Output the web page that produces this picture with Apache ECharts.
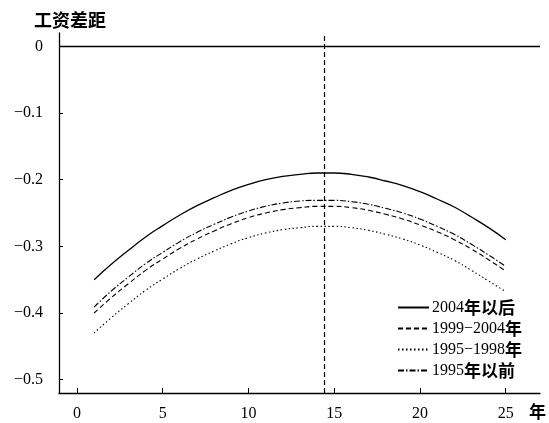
<!DOCTYPE html>
<html><head><meta charset="utf-8">
<script src="https://cdn.jsdelivr.net/npm/echarts@6/dist/echarts.min.js"></script>
<style>html,body{margin:0;padding:0;background:#fff}#c{width:549px;height:423px}</style>
</head><body><div id="c"></div>
<script>
const years = [1,2,3,4,5,6,7,8,9,10,11,12,13,14,15,16,17,18,19,20,21,22,23,24,25];
const after2004 = [-0.350,-0.327,-0.306,-0.286,-0.269,-0.253,-0.239,-0.227,-0.216,-0.207,-0.200,-0.195,-0.192,-0.190,-0.190,-0.192,-0.196,-0.202,-0.209,-0.218,-0.229,-0.241,-0.256,-0.272,-0.290];
const y1999_2004 = [-0.400,-0.377,-0.356,-0.336,-0.319,-0.303,-0.289,-0.277,-0.266,-0.257,-0.250,-0.245,-0.242,-0.240,-0.240,-0.242,-0.246,-0.252,-0.259,-0.268,-0.278,-0.290,-0.304,-0.320,-0.337];
const y1995_1998 = [-0.430,-0.407,-0.386,-0.366,-0.349,-0.333,-0.319,-0.307,-0.296,-0.287,-0.280,-0.275,-0.272,-0.270,-0.270,-0.272,-0.276,-0.282,-0.289,-0.298,-0.309,-0.321,-0.336,-0.352,-0.368];
const before1995 = [-0.391,-0.367,-0.346,-0.326,-0.309,-0.293,-0.279,-0.267,-0.256,-0.247,-0.240,-0.235,-0.232,-0.231,-0.231,-0.233,-0.237,-0.243,-0.250,-0.259,-0.270,-0.282,-0.297,-0.313,-0.330];
const xTicks = [0,5,10,15,20,25];
const yTicks = [-0.5,-0.4,-0.3,-0.2,-0.1,0];
const peakYear = 14.4;
const names = [['2004','年以后'],['1999−2004','年'],['1995−1998','年'],['1995','年以前']];

const serif = '"Liberation Serif","Times New Roman",serif';
const cjk = '"Noto Sans CJK SC",sans-serif';
const pair = arr => years.map((x,i)=>[x,arr[i]]);
const legendNames = names.map(n=>n[0]+n[1]);

const chart = echarts.init(document.getElementById('c'));
const base = {type:'line', smooth:true, symbol:'none', silent:true, color:'#000', itemStyle:{color:'#000'}};
chart.setOption({
  animation:false,
  title:{text:'工资差距', left:29, top:6, textStyle:{fontFamily:cjk, fontWeight:'bold', fontSize:18, color:'#000'}},
  graphic:[{type:'text', left:529, top:403, style:{text:'年', font:'bold 17px "Noto Sans CJK SC", sans-serif', fill:'#000'}}],
  grid:{left:59, top:33, right:9, bottom:30},
  legend:{
    orient:'vertical', left:397, top:299, padding:0, itemWidth:31, itemHeight:14, itemGap:4,
    data:legendNames,
    itemStyle:{opacity:0},
    formatter: name => { const n = names[legendNames.indexOf(name)]; return '{a|'+n[0]+'}{b|'+n[1]+'}'; },
    textStyle:{rich:{a:{fontFamily:serif, fontSize:16, color:'#000', lineHeight:17}, b:{fontFamily:cjk, fontWeight:'bold', fontSize:17, color:'#000', lineHeight:17}}, padding:[0,0,0,-2]}
  },
  xAxis:{type:'value', min:-1.05, max:27,
    axisLine:{show:true, onZero:false, lineStyle:{color:'#000', width:1.3}},
    axisTick:{show:true, inside:true, length:5, customValues:xTicks, lineStyle:{color:'#000'}},
    axisLabel:{customValues:xTicks, margin:13, fontFamily:serif, fontSize:16, color:'#000'},
    splitLine:{show:false}},
  yAxis:{type:'value', min:-0.52, max:0.02,
    axisLine:{show:true, onZero:false, lineStyle:{color:'#000', width:1.3}},
    axisTick:{show:true, inside:true, length:4, customValues:yTicks, lineStyle:{color:'#000'}},
    axisLabel:{customValues:yTicks, margin:16, fontFamily:serif, fontSize:16, color:'#000',
      formatter: v => Math.abs(v) < 1e-9 ? '0' : '−' + Math.abs(v).toFixed(1)},
    splitLine:{show:false}},
  series:[
    Object.assign({}, base, {name:legendNames[0], data:pair(after2004), lineStyle:{color:'#000', width:1.3, type:'solid'},
      markLine:{silent:true, symbol:'none', label:{show:false}, animation:false,
        data:[{yAxis:0, lineStyle:{color:'#000', width:1.3, type:'solid'}},
              {xAxis:peakYear, lineStyle:{color:'#000', width:1.2, type:[5,3]}}]}}),
    Object.assign({}, base, {name:legendNames[1], data:pair(y1999_2004), lineStyle:{color:'#000', width:1.1, type:[5,3]}}),
    Object.assign({}, base, {name:legendNames[2], data:pair(y1995_1998), lineStyle:{color:'#000', width:1.1, type:[1.5,2.5]}}),
    Object.assign({}, base, {name:legendNames[3], data:pair(before1995), lineStyle:{color:'#000', width:1.1, type:[6,2,1.5,2]}})
  ]
});
</script></body></html>
